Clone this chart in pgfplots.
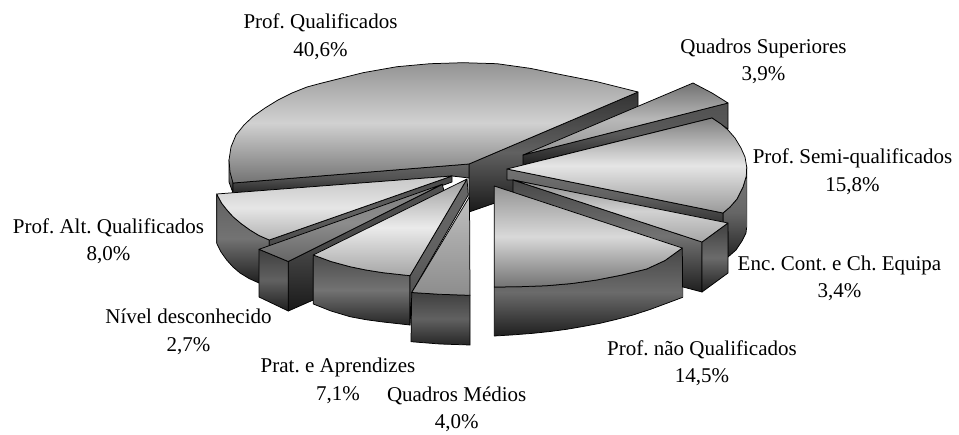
\documentclass[border=0pt]{standalone}
\usepackage{pgfplots}
\pgfplotsset{compat=1.18}
\usepackage{fontspec}
\setmainfont{Liberation Serif}
\tikzset{
  sh/.style n args={3}{shade,top color=black!#1,bottom color=black!#3,middle color=black!#2},
  lab/.style={align=center,font=\fontsize{21}{27.5}\selectfont\frenchspacing,inner sep=0pt},
}
\begin{document}
\begin{tikzpicture}[x=1pt,y=1pt]
\begin{axis}[
  at={(0pt,0pt)},anchor=south west,
  scale only axis,width=959pt,height=434pt,
  xmin=0,xmax=959,ymin=0,ymax=434,y dir=reverse,
  hide axis,clip=false,
  no markers,
  every axis plot/.append style={draw=black,line width=0.75pt,line join=round,solid},
]
% --- Prof. Qualificados 40,6%: outer rim, cut faces, top
\addplot[sh={65}{55}{85}] coordinates {(229,160)(229,182)(233,193)(233,183)(233,165)} -- cycle;
\addplot[sh={80}{62}{90}] coordinates {(469,164)(638,92)(638,112)(495,203)(469,212)} -- cycle;
\addplot[sh={60}{68}{85}] coordinates {(233,183)(469,164)(469,178)(452,176)(233,193)} -- cycle;
\addplot[sh={42}{18}{55}] coordinates {(469,164)(638,92)(597,81.7)(563,75)(530,68.3)(497,63.7)(463,62.7)(430,63.7)(397,66.7)(363,72.7)(330,81)(320,83.5)(307,87)(292,93)(278,100)(265,108)(253,116.5)(244,125)(236,135)(231,147)(229,160)(230,172)(233,183)} -- cycle;
% --- Quadros Superiores 3,9%
\addplot[sh={68}{65}{88}] coordinates {(523,155)(728,103)(728,129)(712,118)(523,165)} -- cycle;
\addplot[sh={55}{28}{42}] coordinates {(523,155)(693,83)(712,93)(728,103)} -- cycle;
% --- Prof. Semi-qualificados 15,8%
\addplot[sh={52}{60}{85}] coordinates {(746.7,167)(746.3,176)(743,187)(737,199)(730,207)(723,213)(723,223)(728,232)(728,257)(736,250)(742,241)(746,233)(746.7,227)} -- cycle;
\addplot[sh={55}{62}{80}] coordinates {(507,169)(723,213)(723,223)(513,180)(507,180)} -- cycle;
\addplot[sh={50}{10}{40}] coordinates {(507,169)(712,118)(721,124)(728,130)(735,138)(741,148)(745,157)(746.7,167)(746.3,176)(743,187)(737,199)(730,207)(723,213)} -- cycle;
% --- Enc. Cont. e Ch. Equipa 3,4%
\addplot[sh={72}{55}{88}] coordinates {(513,180)(702,242)(702,292)(683,287)(513,192)} -- cycle;
\addplot[sh={75}{58}{88}] coordinates {(702,242)(728,223)(728,273)(702,292)} -- cycle;
\addplot[sh={45}{18}{35}] coordinates {(513,180)(728,223)(702,242)} -- cycle;
% --- Prof. nao Qualificados 14,5%
\addplot[sh={72}{58}{88}] coordinates {(494.3,287)(520,286.7)(546.7,285.7)(572,283.5)(596.7,280)(622,275)(646.7,269)(665,260.5)(682.3,248)(682.7,297.3)(666.7,303.3)(650,309.5)(633,315)(616,319.5)(600,323.3)(583,326.5)(566.7,329.3)(550,331.5)(533,333.3)(514,334.8)(494.3,336)} -- cycle;
\addplot[sh={42}{15}{55}] coordinates {(494.3,186)(682.3,248)(665,260.5)(646.7,269)(622,275)(596.7,280)(572,283.5)(546.7,285.7)(520,286.7)(494.3,287)} -- cycle;
% --- Prof. Alt. Qualificados 8,0%
\addplot[sh={62}{55}{88}] coordinates {(216.7,194)(221.7,203.3)(227,210)(233,216.7)(241,223.5)(250,230)(259,235.5)(269.3,240)(269.3,248)(259,283)(249,278.5)(240,273)(233,267)(226.7,260)(221,252)(216.7,243.3)} -- cycle;
\addplot[sh={72}{62}{72}] coordinates {(452,176)(269.3,240)(269.3,248)(452,182)} -- cycle;
\addplot[sh={22}{10}{30}] coordinates {(216.7,194)(452,176)(269.3,240)(259,235.5)(250,230)(241,223.5)(233,216.7)(227,210)(221.7,203.3)} -- cycle;
% --- Nivel desconhecido 2,7%
\addplot[sh={68}{72}{90}] coordinates {(288.3,261.5)(442.3,184.3)(445,195)(313.3,258)(313.3,300)(288.3,311)} -- cycle;
\addplot[sh={75}{62}{88}] coordinates {(259,249.3)(288.3,261.5)(288.3,311)(259,297)} -- cycle;
\addplot[sh={50}{45}{60}] coordinates {(442.3,184.3)(259,249.3)(288.3,261.5)} -- cycle;
% --- Prat. e Aprendizes 7,1%
\addplot[sh={70}{55}{85}] coordinates {(313.3,255)(331,261.5)(350,266.7)(366,270)(383,272.7)(410,275.7)(410,325)(383,322)(366,319.7)(350,316.7)(331,311)(313.3,304)} -- cycle;
\addplot[sh={60}{62}{72}] coordinates {(467,179)(410,275.7)(410,325)(412,292)(468.3,195)} -- cycle;
\addplot[sh={38}{8}{35}] coordinates {(467,179)(313.3,255)(331,261.5)(350,266.7)(366,270)(383,272.7)(410,275.7)} -- cycle;
% --- Quadros Medios 4,0%
\addplot[sh={75}{62}{85}] coordinates {(411.7,292.5)(440,294.3)(470,295.3)(470,345)(440,344)(411,341.7)} -- cycle;
\addplot[sh={25}{35}{45}] coordinates {(469.5,196.7)(470,295.3)(440,294.3)(411.7,292.5)} -- cycle;
% --- labels
\node[lab] at (axis cs:320.5,36.5) {Prof. Qualificados\\40,6\%};
\node[lab] at (axis cs:763.5,61.5) {Quadros Superiores\\3,9\%};
\node[lab] at (axis cs:852.5,171.5) {Prof. Semi-qualificados\\15,8\%};
\node[lab] at (axis cs:839.5,278.5) {Enc. Cont. e Ch. Equipa\\3,4\%};
\node[lab] at (axis cs:702,363) {Prof. não Qualificados\\14,5\%};
\node[lab] at (axis cs:456.7,409.5) {Quadros Médios\\4,0\%};
\node[lab] at (axis cs:338,381) {Prat. e Aprendizes\\7,1\%};
\node[lab] at (axis cs:188.5,332) {Nível desconhecido\\2,7\%};
\node[lab] at (axis cs:108.5,241) {Prof. Alt. Qualificados\\8,0\%};
\end{axis}
\useasboundingbox (0pt,0pt) rectangle (959pt,434pt);
\end{tikzpicture}
\end{document}
